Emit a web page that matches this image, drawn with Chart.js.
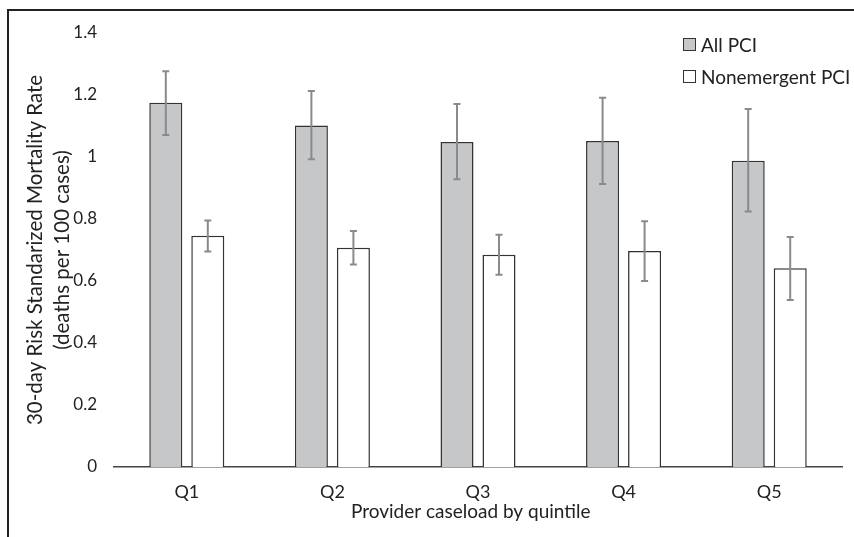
<!DOCTYPE html>
<html>
<head>
<meta charset="utf-8">
<script src="https://cdn.jsdelivr.net/npm/chart.js@4.4.1/dist/chart.umd.min.js"></script>
<style>
  html, body { margin: 0; padding: 0; background: #fff; overflow: hidden; }
  #wrap { position: relative; width: 854px; height: 537px; }
  #marco { position: absolute; left: 7px; top: 9px; width: 900px; height: 600px;
    border-top: 2px solid #222; border-left: 2px solid #222; }
  #leyenda { position: absolute; left: 683px; top: 28px; font-family: Lato, sans-serif;
    font-size: 19px; color: #222; }
  .item { display: flex; align-items: center; height: 32px; }
  .caja { width: 11px; height: 11px; border: 1px solid #333; margin-right: 5px; }
</style>
</head>
<body>
<div id="wrap">
  <div id="marco"></div>
  <canvas id="myChart" width="854" height="537"></canvas>
  <div id="leyenda"></div>
</div>
<script>
// datos
const quintiles = ["Q1", "Q2", "Q3", "Q4", "Q5"];
const todosPCI = [1.175, 1.102, 1.048, 1.052, 0.988];
const todosAlto = [1.277, 1.213, 1.171, 1.191, 1.155];
const todosBajo = [1.071, 0.993, 0.928, 0.913, 0.824];
const noEmergPCI = [0.746, 0.707, 0.685, 0.697, 0.641];
const noEmergAlto = [0.795, 0.761, 0.749, 0.793, 0.742];
const noEmergBajo = [0.695, 0.653, 0.62, 0.6, 0.539];
const ticksY = [0, 0.2, 0.4, 0.6, 0.8, 1, 1.2, 1.4];

const fuente = "Lato, sans-serif";

// dibuja las barras de error con la escala del grafico
const barrasError = {
  id: "barrasError",
  afterDatasetsDraw(chart) {
    const ctx = chart.ctx;
    const escalaY = chart.scales.y;
    chart.data.datasets.forEach((ds, i) => {
      const meta = chart.getDatasetMeta(i);
      meta.data.forEach((barra, j) => {
        const yAlto = escalaY.getPixelForValue(ds.errAlto[j]);
        const yBajo = escalaY.getPixelForValue(ds.errBajo[j]);
        const x = barra.x;
        ctx.save();
        ctx.strokeStyle = "#8a8a8a";
        ctx.lineWidth = 2;
        ctx.beginPath();
        ctx.moveTo(x, yAlto);
        ctx.lineTo(x, yBajo);
        ctx.moveTo(x - 3.5, yAlto);
        ctx.lineTo(x + 3.5, yAlto);
        ctx.moveTo(x - 3.5, yBajo);
        ctx.lineTo(x + 3.5, yBajo);
        ctx.stroke();
        ctx.restore();
      });
    });
  },
};

const data = {
  labels: quintiles,
  datasets: [
    {
      label: "All PCI",
      data: todosPCI,
      errAlto: todosAlto,
      errBajo: todosBajo,
      backgroundColor: "#c6c7c9",
      borderColor: "#333",
      borderWidth: 1.5,
      categoryPercentage: 0.577,
      barPercentage: 0.786,
    },
    {
      label: "Nonemergent PCI",
      data: noEmergPCI,
      errAlto: noEmergAlto,
      errBajo: noEmergBajo,
      backgroundColor: "#ffffff",
      borderColor: "#333",
      borderWidth: 1.5,
      categoryPercentage: 0.577,
      barPercentage: 0.786,
    },
  ],
};

const config = {
  type: "bar",
  data: data,
  options: {
    responsive: false,
    animation: false,
    layout: { padding: { left: 0, right: 12, top: 33, bottom: 0 } },
    plugins: {
      legend: { display: false },
      tooltip: { enabled: false },
    },
    scales: {
      x: {
        grid: { display: false, drawTicks: false },
        border: { display: true, color: "#444", width: 1.5 },
        ticks: { color: "#222", font: { family: fuente, size: 18 }, padding: 14 },
        title: {
          display: true,
          // espacios al final para correr el titulo un poco a la izquierda
          text: "Provider caseload by quintile\u00a0\u00a0\u00a0",
          color: "#222",
          font: { family: fuente, size: 19 },
          padding: { top: 0, bottom: 14 },
        },
        afterFit: (s) => { s.height = 70; },
      },
      y: {
        min: 0,
        max: 1.4,
        afterBuildTicks: (s) => { s.ticks = ticksY.map((v) => ({ value: v })); },
        grid: { display: false, drawTicks: false },
        border: { display: false },
        ticks: {
          color: "#222",
          font: { family: fuente, size: 17 },
          padding: 17,
          callback: (v) => String(v),
        },
        title: {
          display: true,
          text: ["30-day Risk Standarized Mortality Rate", "(deaths per 100 cases)"],
          color: "#222",
          font: { family: fuente, size: 20.5, lineHeight: 1.3 },
          padding: { top: 22, bottom: 0 },
        },
        afterFit: (s) => { s.width = 114; },
      },
    },
  },
  plugins: [barrasError],
};

const myChartElement = document.getElementById("myChart");
var myChart = new Chart(myChartElement, config);

// leyenda en html arriba a la derecha
const leyenda = document.getElementById("leyenda");
data.datasets.forEach((ds) => {
  leyenda.innerHTML += `<div class="item"><span class="caja" style="background:${ds.backgroundColor}"></span>${ds.label}</div>`;
});
</script>
</body>
</html>
